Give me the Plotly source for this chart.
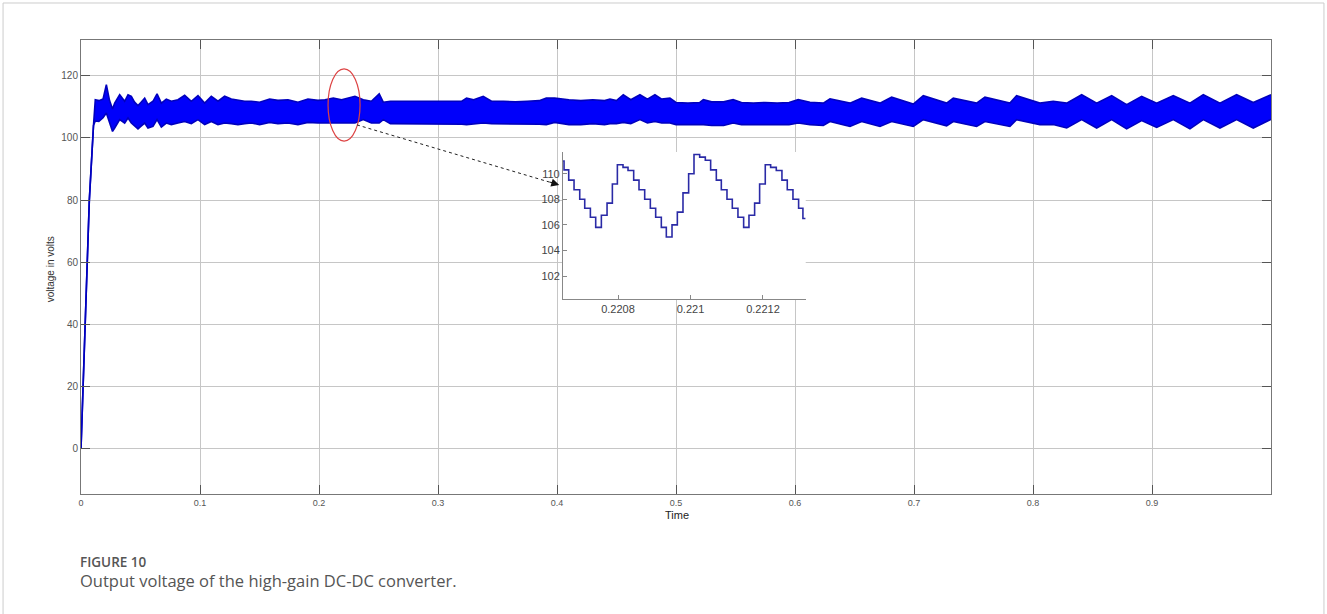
import plotly.graph_objects as go

# ---- main record: upper / lower extent of the output-voltage ripple band ----
t_env = [
    0.0000, 0.0070, 0.0105, 0.0120, 0.0150, 0.0185, 0.0213, 0.0240, 0.0265, 0.0283,
    0.0325, 0.0367, 0.0395, 0.0423, 0.0450, 0.0479, 0.0505, 0.0535, 0.0563, 0.0605,
    0.0639, 0.0675, 0.0717, 0.0759, 0.0815, 0.0871, 0.0927, 0.0983, 0.1039, 0.1095,
    0.1151, 0.1207, 0.1263, 0.1319, 0.1375, 0.1431, 0.1501, 0.1585, 0.1655, 0.1739,
    0.1823, 0.1907, 0.1991,
    0.2050, 0.2120, 0.2190, 0.2260, 0.2302, 0.2372, 0.2440, 0.2506, 0.2540, 0.2600,
    0.2700, 0.2800, 0.2900, 0.3000, 0.3100, 0.3200, 0.3240, 0.3300, 0.3380, 0.3450,
    0.3550, 0.3650, 0.3750, 0.3850, 0.3910, 0.3980,
    0.4100, 0.4200, 0.4300, 0.4400, 0.4445, 0.4500, 0.4557, 0.4620, 0.4697, 0.4760,
    0.4823, 0.4880, 0.4949, 0.5000, 0.5100, 0.5200, 0.5230, 0.5300, 0.5400, 0.5480,
    0.5550, 0.5650, 0.5750, 0.5850, 0.5950, 0.6027,
    0.6126, 0.6238, 0.6294, 0.6462, 0.6560, 0.6714, 0.6812, 0.6994, 0.7078, 0.7274,
    0.7330, 0.7526, 0.7596, 0.7806, 0.7862, 0.8058,
    0.8170, 0.8283, 0.8409, 0.8535, 0.8661, 0.8787, 0.8913, 0.9039, 0.9179, 0.9319,
    0.9431, 0.9571, 0.9711, 0.9851, 1.0000,
]
v_upper = [
    0.0, 80.0, 104.0, 112.3, 112.0, 112.5, 117.1, 112.0, 109.3, 111.2,
    113.9, 111.8, 113.9, 113.4, 111.5, 110.4, 111.5, 112.8, 110.7, 111.8,
    114.2, 111.2, 112.5, 111.8, 112.3, 113.7, 111.8, 113.6, 111.2, 113.4,
    111.8, 113.4, 112.5, 112.1, 111.8, 111.8, 111.5, 112.5, 112.1, 112.3,
    111.5, 112.5, 112.1,
    112.3, 112.8, 112.3, 113.0, 113.4, 112.3, 111.8, 114.2, 111.5, 111.8,
    111.8, 111.6, 111.8, 111.8, 111.6, 111.8, 112.8, 112.3, 113.4, 111.8,
    111.8, 111.6, 111.8, 112.0, 112.8, 112.8,
    112.3, 112.0, 112.3, 112.0, 112.5, 112.0, 113.9, 112.3, 113.9, 112.5,
    113.9, 112.5, 112.8, 111.4, 111.2, 111.4, 112.3, 111.6, 111.6, 112.3,
    111.4, 111.2, 111.4, 111.2, 111.4, 112.3,
    111.5, 111.2, 112.6, 111.2, 112.8, 111.2, 113.1, 110.9, 113.6, 111.2,
    112.8, 111.2, 113.1, 111.2, 113.6, 111.2,
    111.8, 111.2, 113.9, 111.2, 113.6, 110.7, 113.4, 111.2, 113.6, 111.2,
    113.9, 111.2, 113.9, 111.4, 113.9,
]
v_lower = [
    0.0, 80.0, 104.0, 105.5, 105.3, 106.5, 108.0, 104.5, 102.1, 103.2,
    105.9, 104.8, 106.4, 104.8, 104.0, 102.9, 103.8, 104.8, 103.2, 103.7,
    105.9, 103.5, 104.8, 104.3, 104.8, 105.3, 104.6, 105.9, 104.3, 105.3,
    104.3, 104.8, 104.6, 104.3, 104.6, 104.8, 104.3, 105.0, 104.6, 104.8,
    104.3, 105.0, 104.8,
    104.8, 104.6, 104.8, 104.6, 104.8, 105.9, 104.8, 104.8, 105.9, 104.6,
    104.6, 104.6, 104.6, 104.6, 104.6, 104.4, 104.3, 104.6, 104.8, 104.6,
    104.6, 104.6, 104.6, 104.4, 104.3, 105.0,
    104.3, 104.3, 104.6, 104.3, 104.6, 104.6, 105.0, 104.6, 105.9, 104.8,
    105.3, 104.8, 104.8, 104.3, 104.3, 104.3, 104.3, 104.0, 104.0, 104.8,
    104.3, 104.3, 104.3, 104.3, 104.3, 104.8,
    104.3, 104.0, 105.3, 103.7, 105.3, 103.7, 105.3, 103.7, 105.9, 103.9,
    105.3, 103.7, 105.3, 103.7, 105.9, 104.3,
    104.3, 103.2, 105.9, 103.2, 105.9, 102.9, 105.6, 103.4, 105.9, 102.9,
    105.9, 103.2, 105.9, 103.2, 106.0,
]

# ---- detail window around t = 0.221 s (sampled, step-wise output) ----
t_zoom = [
    0.2206483, 0.2206510, 0.2206639, 0.2206786, 0.2206943, 0.2207081, 0.2207237,
    0.2207384, 0.2207540, 0.2207697, 0.2207844, 0.2207982, 0.2208138, 0.2208276,
    0.2208432, 0.2208579, 0.2208736, 0.2208892, 0.2209039, 0.2209195, 0.2209333,
    0.2209490, 0.2209637, 0.2209793, 0.2209949, 0.2210097, 0.2210253, 0.2210409,
    0.2210556, 0.2210713, 0.2210851, 0.2211007, 0.2211154, 0.2211310, 0.2211467,
    0.2211614, 0.2211770, 0.2211908, 0.2212064, 0.2212212, 0.2212368, 0.2212524,
    0.2212671, 0.2212828, 0.2212984, 0.2213103, 0.2213177,
]
v_zoom = [
    111.0, 110.3, 109.5, 108.75, 108.0, 107.3, 106.6,
    105.8, 106.75, 107.7, 109.2, 110.7, 110.5, 110.25,
    109.5, 108.75, 108.0, 107.3, 106.6, 105.8, 105.05,
    106.0, 107.0, 108.5, 110.0, 111.5, 111.3, 111.05,
    110.3, 109.5, 108.75, 108.0, 107.3, 106.6, 105.8,
    106.75, 107.7, 109.2, 110.7, 110.5, 110.25, 109.5,
    108.75, 108.0, 107.3, 106.5, 106.5,
]

x_ticks = [0, 0.1, 0.2, 0.3, 0.4, 0.5, 0.6, 0.7, 0.8, 0.9]
x_tick_text = ["0", "0.1", "0.2", "0.3", "0.4", "0.5", "0.6", "0.7", "0.8", "0.9"]
y_ticks = [0, 20, 40, 60, 80, 100, 120]
zoom_x_ticks = [0.2208, 0.2210, 0.2212]
zoom_x_text = ["0.2208", "0.221", "0.2212"]
zoom_y_ticks = [102, 104, 106, 108, 110]

# highlighted region and pointer
ell_t = [0.2076, 0.2345]
ell_v = [99.0, 122.2]
ptr_start = (0.2319, 104.2)
ptr_tip = (0.4019, 84.9)
ptr_line_end = (0.3955, 85.6)

band_edge = "rgb(0,0,190)"
band_fill = "rgb(0,0,250)"

fig = go.Figure()
fig.add_trace(go.Scatter(
    x=t_env, y=v_lower, mode="lines",
    line=dict(color=band_edge, width=1.6),
    hoverinfo="skip", showlegend=False,
))
fig.add_trace(go.Scatter(
    x=t_env, y=v_upper, mode="lines", fill="tonexty", fillcolor=band_fill,
    line=dict(color=band_edge, width=1.6),
    hoverinfo="skip", showlegend=False,
))
fig.add_trace(go.Scatter(
    x=t_zoom, y=v_zoom, mode="lines", xaxis="x2", yaxis="y2",
    line=dict(color="#2a2aa6", width=1.6, shape="hv"),
    hoverinfo="skip", showlegend=False,
))

tick_font = dict(family="Liberation Sans, Arial, sans-serif", size=9, color="#555555")
fig.update_layout(
    width=1327, height=614,
    margin=dict(l=81, r=56, t=40, b=120),
    paper_bgcolor="white", plot_bgcolor="white",
    xaxis=dict(
        range=[0, 1], tickvals=x_ticks, ticktext=x_tick_text,
        showgrid=True, gridcolor="#c6c6c6", gridwidth=1,
        ticks="inside", ticklen=9, tickcolor="#555555",
        showline=True, linecolor="#777777", linewidth=1, mirror="ticks",
        zeroline=False, tickfont=tick_font,
    ),
    yaxis=dict(
        range=[-14.5, 131.5], tickvals=y_ticks,
        showgrid=True, gridcolor="#c6c6c6", gridwidth=1,
        ticks="inside", ticklen=9, tickcolor="#555555",
        showline=True, linecolor="#777777", linewidth=1, mirror="ticks",
        zeroline=False, tickfont=dict(tick_font, size=10),
    ),
    xaxis2=dict(
        domain=[0.405, 0.609], anchor="y2", range=[0.220648, 0.221318],
        tickvals=zoom_x_ticks, ticktext=zoom_x_text,
        showgrid=False, zeroline=False,
        showline=True, linecolor="#888888", linewidth=1,
        ticks="inside", ticklen=4, tickcolor="#888888",
        tickfont=dict(family="Liberation Sans, Arial, sans-serif", size=11, color="#444444"),
    ),
    yaxis2=dict(
        domain=[0.4295, 0.7533], anchor="x2", range=[100.2, 111.7],
        tickvals=zoom_y_ticks,
        showgrid=False, zeroline=False,
        showline=True, linecolor="#888888", linewidth=1,
        ticks="inside", ticklen=4, tickcolor="#888888",
        tickfont=dict(family="Liberation Sans, Arial, sans-serif", size=11, color="#444444"),
    ),
    shapes=[
        dict(type="circle", xref="x", yref="y",
             x0=ell_t[0], x1=ell_t[1], y0=ell_v[0], y1=ell_v[1],
             line=dict(color="#dd4444", width=1.2), layer="above"),
        dict(type="line", xref="x", yref="y",
             x0=ptr_start[0], y0=ptr_start[1], x1=ptr_line_end[0], y1=ptr_line_end[1],
             line=dict(color="#222222", width=1, dash="dot"), layer="above"),
        # figure frame
        dict(type="rect", xref="paper", yref="paper",
             x0=-0.0655, x1=1.0445, y0=-0.27, y1=1.0815,
             line=dict(color="#cccccc", width=1), layer="below"),
    ],
    annotations=[
        dict(x=ptr_tip[0], y=ptr_tip[1], xref="x", yref="y", ax=-11, ay=-3.3,
             text="", showarrow=True, arrowhead=2, arrowsize=1.6, arrowwidth=1,
             arrowcolor="#111111"),
        dict(x=0.5008, y=-0.0463, xref="paper", yref="paper", text="Time",
             showarrow=False, xanchor="center", yanchor="middle",
             font=dict(family="Liberation Sans, Arial, sans-serif", size=11, color="#222222")),
        dict(x=-0.026, y=0.495, xref="paper", yref="paper", text="voltage in volts",
             textangle=-90, showarrow=False, xanchor="center", yanchor="middle",
             font=dict(family="Liberation Sans, Arial, sans-serif", size=10, color="#333333")),
        dict(x=0, y=-0.1498, xref="paper", yref="paper", text="FIGURE 10",
             showarrow=False, xanchor="left", yanchor="middle", xshift=-2, borderpad=0,
             font=dict(family="Open Sans, sans-serif", size=13.5, color="#555555", weight=600)),
        dict(x=0, y=-0.1916, xref="paper", yref="paper",
             text="Output voltage of the high-gain DC-DC converter.",
             showarrow=False, xanchor="left", yanchor="middle", xshift=-2, borderpad=0,
             font=dict(family="Open Sans, sans-serif", size=16.5, color="#555555")),
    ],
)

fig.write_html("out.html")
